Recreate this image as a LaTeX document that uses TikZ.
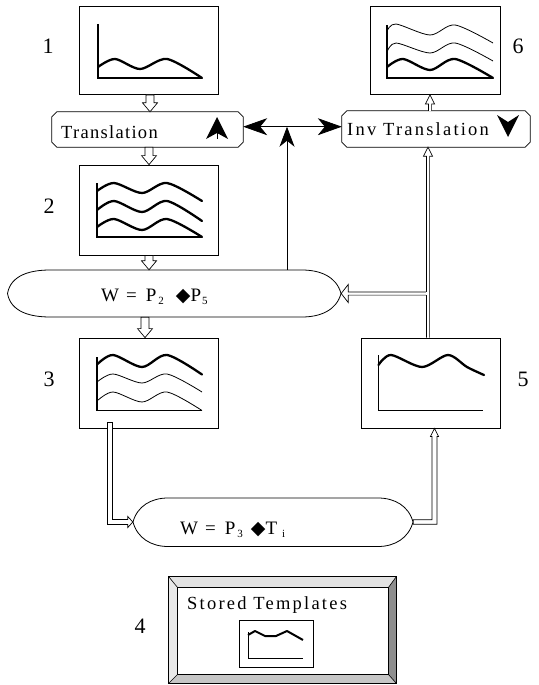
\documentclass[tikz,border=0pt]{standalone}
\usepackage{fontspec}
\setmainfont{Liberation Serif}
\newfontfamily\symf{DejaVu Sans}
\newfontfamily\spaced[LetterSpace=12]{Liberation Serif}
\newfontfamily\spacedb[LetterSpace=7]{Liberation Serif}
\usetikzlibrary{arrows.meta,calc}
\definecolor{bvtop}{HTML}{E2E2E2}
\definecolor{bvleft}{HTML}{E8E8E8}
\definecolor{bvright}{HTML}{8E8E8E}
\definecolor{bvbot}{HTML}{C6C6C6}
\newcommand{\subtx}[1]{\raisebox{-3pt}{\fontsize{11}{11}\selectfont #1}}
\begin{document}
\begin{tikzpicture}[x=1pt,y=1pt,
 pbox/.style={draw, line width=0.8pt, inner sep=0pt, fill=white},
 ax/.style={line width=1.1pt},
 thk/.style={line width=2.3pt, line join=round, line cap=round},
 thn/.style={line width=0.8pt, line join=round},
 lbl/.style={font=\fontsize{22}{22}\selectfont, anchor=base, inner sep=0pt},
 ttl/.style={font=\spaced\fontsize{18.5}{19}\selectfont, anchor=base west, inner sep=0pt},
 eqn/.style={font=\fontsize{19}{20}\selectfont, anchor=base west, inner sep=0pt},
 outl/.style={line width=0.8pt},
 blockdown/.style={draw, fill=white, line width=0.7pt, to path={let \p1=(\tikztostart), \p2=(\tikztotarget) in (\x1-4pt,\y1) -- (\x1-4pt,\y2+9pt) -- (\x1-7.5pt,\y2+9pt) -- (\x1,\y2) -- (\x1+7.5pt,\y2+9pt) -- (\x1+4pt,\y2+9pt) -- (\x1+4pt,\y1) -- cycle}},
 dblup/.style={draw, fill=white, line width=0.7pt, to path={let \p1=(\tikztostart), \p2=(\tikztotarget) in (\x1-1.6pt,\y1) -- (\x1-1.6pt,\y2-9pt) -- (\x1-4.5pt,\y2-9pt) -- (\x1,\y2) -- (\x1+4.5pt,\y2-9pt) -- (\x1+1.6pt,\y2-9pt) -- (\x1+1.6pt,\y1)}},
 stk/.style={line width=0.8pt, {Stealth[length=24pt,width=17pt,inset=7pt]}-{Stealth[length=24pt,width=17pt,inset=7pt]}},
 stkup/.style={line width=0.8pt, -{Stealth[length=20pt,width=15pt,inset=6pt]}}
]
\useasboundingbox (0,0) rectangle (538,-685);

% ---------- plot boxes ----------
\node[pbox, minimum width=139pt, minimum height=88pt] (b1) at (148.5,-50.5) {};
\node[pbox, minimum width=139pt, minimum height=90pt] (b2) at (148.5,-210) {};
\node[pbox, minimum width=139pt, minimum height=90pt] (b3) at (148.5,-383) {};
\node[pbox, minimum width=139pt, minimum height=90pt] (b5) at (430.5,-383) {};
\node[pbox, minimum width=130pt, minimum height=88pt] (b6) at (435,-50.5) {};

% labels
\node[lbl] (l1) at (48,-53) {1};
\node[lbl] (l2) at (49,-213.5) {2};
\node[lbl] (l3) at (49,-386) {3};
\node[lbl] (l4) at (140,-633) {4};
\node[lbl] (l5) at (523,-386) {5};
\node[lbl] (l6) at (518,-53) {6};

% box 1 plot
\draw[ax] (98,-24) -- (98,-78) -- (202,-78);
\draw[thk] plot[smooth, tension=0.5] coordinates {(98,-67) (115,-59) (140,-69) (167,-59) (202,-78)};

% box 2 plot
\draw[ax] (97,-183) -- (97,-237) -- (202,-237);
\draw[thk] plot[smooth, tension=0.5] coordinates {(97,-191) (114,-183) (142,-193) (167,-183) (202,-201)};
\draw[thk] plot[smooth, tension=0.5] coordinates {(97,-210) (114,-201) (142,-212) (167,-201) (202,-221)};
\draw[thk] plot[smooth, tension=0.5] coordinates {(97,-227) (114,-219) (142,-230) (167,-219) (202,-237)};

% box 3 plot
\draw[ax] (97,-357) -- (97,-410.5) -- (202,-410.5);
\draw[thk] plot[smooth, tension=0.5] coordinates {(97,-364.5) (113,-355) (142,-367) (167,-355) (202,-374.5)};
\draw[thn] plot[smooth, tension=0.5] coordinates {(97,-382) (113,-374) (142,-383) (167,-374) (202,-392)};
\draw[thn] plot[smooth, tension=0.5] coordinates {(97,-401) (113,-392) (142,-402) (167,-392) (202,-410.5)};

% box 5 plot
\draw[ax] (378.5,-355) -- (378.5,-410.5) -- (483,-410.5);
\draw[thk] plot[smooth, tension=0.5] coordinates {(378.5,-365) (391,-355) (422,-367) (448,-355) (467,-367) (484,-375)};

% box 6 plot
\draw[ax] (387,-25) -- (387,-78) -- (493,-78);
\draw[thn] plot[smooth, tension=0.5] coordinates {(387,-31) (396,-24) (430,-35) (455,-25) (493,-43)};
\draw[thn] plot[smooth, tension=0.5] coordinates {(387,-52) (396,-43) (430,-53) (455,-43) (493,-61)};
\draw[thk] plot[smooth, tension=0.5] coordinates {(387,-67) (403,-59) (430,-70) (455,-59) (493,-78)};

% ---------- translation boxes ----------
\node[inner sep=0pt, minimum width=191pt, minimum height=35pt] (t) at (147.5,-129.5) {};
\node[inner sep=0pt, minimum width=188pt, minimum height=36pt] (it) at (436,-129) {};
\foreach \n in {t,it}{
 \draw[outl] ($(\n.north west)+(5,0)$) -- ($(\n.north east)+(-5,0)$) -- ($(\n.north east)+(0,-5)$) -- ($(\n.south east)+(0,5)$) -- ($(\n.south east)+(-5,0)$) -- ($(\n.south west)+(5,0)$) -- ($(\n.south west)+(0,5)$) -- ($(\n.north west)+(0,-5)$) -- cycle;
}
\node[ttl, font=\spacedb\fontsize{18.5}{19}\selectfont] (tt) at (61,-138.5) {Translation};
\node[ttl] (itt) at (347,-135) {Inv Translation};
\fill (217,-117) -- (228,-139) -- (217,-133) -- (206,-139) -- cycle;
\draw[line width=0.6pt] (217,-133) -- (217,-139);
\fill (508,-137) -- (519,-115) -- (508,-122) -- (497,-115) -- cycle;

% ---------- equation ovals ----------
\node[inner sep=0pt, minimum width=333.5pt, minimum height=47pt] (e1) at (174.25,-293.5) {};
\node[inner sep=0pt, minimum width=280pt, minimum height=49pt] (e2) at (273,-522) {};
\draw[outl, fill=white] (50,-270) -- (302,-270) to[out=0,in=105] (341,-293.5) to[out=-105,in=0] (302,-317) -- (50,-317) to[out=180,in=-80] (7.5,-293.5) to[out=80,in=180] cycle;
\draw[outl, fill=white] (168,-498) -- (378,-498) to[out=0,in=105] (413,-522) to[out=-105,in=0] (378,-546.5) -- (168,-546.5) to[out=180,in=-75] (133,-522) to[out=75,in=180] cycle;
\node[eqn] (e1t) at (101,-301) {W\hspace{7pt}=\hspace{9pt}P\hspace{2pt}\subtx{2}\hspace{12pt}{\symf ◆}P\hspace{1pt}\subtx{5}};
\node[eqn] (e2t) at (180,-534) {W\hspace{7pt}=\hspace{9pt}P\hspace{2pt}\subtx{3}\hspace{8pt}{\symf ◆}T\hspace{5pt}\subtx{i}};

% ---------- control arrows ----------
\coordinate (hl) at (287,-126.7);
\draw[stk] (t.east |- hl) -- (it.west |- hl);
\draw[stkup] (e1.north -| hl) -- (hl);

% ---------- hollow block arrows ----------
\draw[blockdown] ([xshift=1.5pt]b1.south) to (t.north);
\draw[blockdown] ([xshift=1.5pt]t.south) to (b2.north);
\draw[blockdown] ([xshift=0.5pt]b2.south) to (e1.north);
\draw[blockdown] ([xshift=-3.5pt]b2.south |- e1.south) to (b3.north);

% ---------- double-line arrows ----------
\draw[dblup] ([xshift=-2.5pt]b5.north) to (it.south);
\draw[dblup] ([xshift=-6pt]it.north) to (b6.south);
\draw[outl, fill=white, line width=0.7pt] let \p1=(e1.east), \p2=(b5.north) in
 (\x2-4.1pt,\y1+1.6pt) -- (\x1+7pt,\y1+1.6pt) -- (\x1+7pt,\y1+9pt) -- (\x1,\y1) -- (\x1+7pt,\y1-9pt) -- (\x1+7pt,\y1-1.6pt) -- (\x2-4.1pt,\y1-1.6pt);
\fill[white] let \p1=(e1.east), \p2=(b5.north) in (\x2-4.5pt,\y1+1.2pt) rectangle (\x2-3.7pt,\y1-1.2pt);

\draw[outl, fill=white, line width=0.7pt] let \p1=(b3.south), \p2=(e2.west) in
 (107.5pt,\y1+6pt) -- (107.5pt,\y2-2.5pt) -- (\x2-5pt,\y2-2.5pt) -- (\x2-5pt,\y2-5.5pt) -- (\x2,\y2) -- (\x2-5pt,\y2+5.5pt) -- (\x2-5pt,\y2+2.5pt) -- (112.5pt,\y2+2.5pt) -- (112.5pt,\y1+6pt) -- cycle;
\draw[outl, fill=white, line width=0.7pt] let \p1=(e2.east), \p2=(b5.south) in
 (\x1,\y1+2.3pt) -- (432pt,\y1+2.3pt) -- (432pt,\y2-8pt) -- (430.5pt,\y2-8pt) -- (434.5pt,\y2) -- (438.5pt,\y2-8pt) -- (437pt,\y2-8pt) -- (437pt,\y1-2.3pt) -- (\x1,\y1-2.3pt) -- cycle;

% ---------- stored templates ----------
\node[inner sep=0pt, minimum width=227pt, minimum height=106pt] (st) at (282.5,-630) {};
\node[inner sep=0pt, minimum width=210pt, minimum height=86pt] (sti) at (283,-631) {};
\fill[bvtop] (st.north west) -- (st.north east) -- (sti.north east) -- (sti.north west) -- cycle;
\fill[bvright] (st.north east) -- (st.south east) -- (sti.south east) -- (sti.north east) -- cycle;
\fill[bvbot] (st.south east) -- (st.south west) -- (sti.south west) -- (sti.south east) -- cycle;
\fill[bvleft] (st.south west) -- (st.north west) -- (sti.north west) -- (sti.south west) -- cycle;
\draw[outl] (st.north west) rectangle (st.south east);
\draw[outl] (sti.north west) rectangle (sti.south east);
\draw[line width=0.6pt] (st.north west) -- (sti.north west) (st.north east) -- (sti.north east) (st.south east) -- (sti.south east) (st.south west) -- (sti.south west);
\node[ttl] (stt) at (187,-609) {Stored Templates};
\node[pbox, minimum width=74pt, minimum height=47pt] (tb) at (276,-643.5) {};
\draw[line width=0.9pt] (248,-632) -- (248,-658) -- (303,-658);
\draw[line width=2pt, line join=round] (248,-635) -- (255,-631) -- (265,-636) -- (276,-636) -- (287,-631) -- (303,-640);
\end{tikzpicture}
\end{document}
